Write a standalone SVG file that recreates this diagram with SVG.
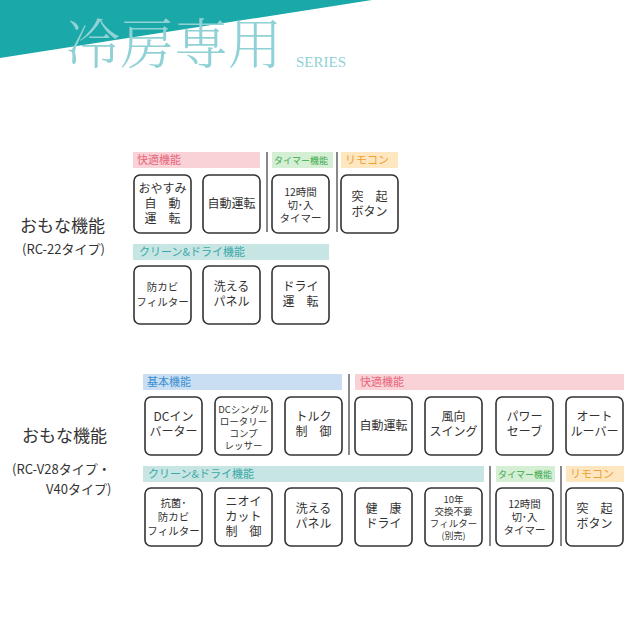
<svg xmlns="http://www.w3.org/2000/svg" width="640" height="640" viewBox="0 0 640 640">
<style>
.b{fill:#fff;stroke:#333;stroke-width:1.6}
.t{font-family:"Noto Sans CJK JP",sans-serif;font-size:12px;fill:#333;text-anchor:middle}
.s{font-size:10.5px}
.x{font-size:9.5px}
.h{font-family:"Noto Sans CJK JP",sans-serif;font-size:11px}
.m{font-size:9px}
.d{stroke:#888;stroke-width:2}
.l{font-family:"Noto Sans CJK JP",sans-serif;fill:#333}
</style>
<rect width="640" height="640" fill="#fff"/>
<polygon points="0,0 372,0 0,58" fill="#1aa9a8"/>
<text x="66" y="64" font-family="Noto Serif CJK JP,Noto Sans CJK JP,serif" font-size="54" font-weight="300" fill="#8fd1d4">冷房専用</text>
<text x="296" y="67" font-family="Liberation Serif,serif" font-size="15" fill="#8fd1d4">SERIES</text>

<g id="labels">
<text class="l" x="20" y="232" font-size="17">おもな機能</text>
<text class="l" x="22" y="254" font-size="13">(RC-22タイプ)</text>
<text class="l" x="22" y="442" font-size="17">おもな機能</text>
<text class="l" x="12" y="474" font-size="13">(RC-V28タイプ・</text>
<text class="l" x="46" y="494" font-size="13">V40タイプ)</text>
</g>

<g id="top-bars">
<rect x="133" y="152" width="127" height="16" fill="#f8d2d7"/><text class="h" x="137" y="164" fill="#e8657a">快適機能</text>
<rect x="272" y="152" width="61" height="16" fill="#d5efd5"/><text class="h m" x="274" y="164" fill="#3aa84a">タイマー機能</text>
<rect x="341" y="152" width="57" height="16" fill="#fde6c0"/><text class="h" x="345" y="164" fill="#f0a030">リモコン</text>
<rect x="133" y="244" width="196" height="16" fill="#c6e5e3"/><text class="h" x="139" y="256" fill="#3aa8a8">クリーン&amp;ドライ機能</text>
<line class="d" x1="267" y1="152" x2="267" y2="232"/><line class="d" x1="337" y1="152" x2="337" y2="232"/>
</g>

<g id="t1"><rect class="b" x="134" y="175" width="57" height="58" rx="6"/><text class="t" x="162.5" y="193">おやすみ</text><text class="t" x="162.5" y="208">自　動</text><text class="t" x="162.5" y="223">運　転</text></g>
<g id="t2"><rect class="b" x="203" y="175" width="57" height="58" rx="6"/><text class="t" x="231.5" y="208">自動運転</text></g>
<g id="t3"><rect class="b" x="272" y="175" width="57" height="58" rx="6"/><text class="t s" x="300.5" y="196">12時間</text><text class="t s" x="300.5" y="209">切･入</text><text class="t s" x="300.5" y="222">タイマー</text></g>
<g id="t4"><rect class="b" x="341" y="175" width="57" height="58" rx="6"/><text class="t" x="369.5" y="201">突　起</text><text class="t" x="369.5" y="216">ボタン</text></g>
<g id="t5"><rect class="b" x="134" y="266" width="57" height="58" rx="6"/><text class="t s" x="162.5" y="291">防カビ</text><text class="t s" x="162.5" y="306">フィルター</text></g>
<g id="t6"><rect class="b" x="203" y="266" width="57" height="58" rx="6"/><text class="t" x="231.5" y="291">洗える</text><text class="t" x="231.5" y="306">パネル</text></g>
<g id="t7"><rect class="b" x="272" y="266" width="57" height="58" rx="6"/><text class="t" x="300.5" y="291">ドライ</text><text class="t" x="300.5" y="306">運　転</text></g>

<g id="bottom-bars">
<rect x="143" y="374" width="199" height="16" fill="#c9def2"/><text class="h" x="147" y="386" fill="#3b8fd0">基本機能</text>
<rect x="355" y="374" width="269" height="16" fill="#f8d2d7"/><text class="h" x="360" y="386" fill="#e8657a">快適機能</text>
<rect x="143" y="466" width="341" height="16" fill="#c6e5e3"/><text class="h" x="148" y="478" fill="#3aa8a8">クリーン&amp;ドライ機能</text>
<rect x="496" y="466" width="59" height="16" fill="#d5efd5"/><text class="h m" x="498" y="478" fill="#3aa84a">タイマー機能</text>
<rect x="566" y="466" width="58" height="16" fill="#fde6c0"/><text class="h" x="570" y="478" fill="#f0a030">リモコン</text>
<line class="d" x1="349" y1="374" x2="349" y2="455"/><line class="d" x1="490" y1="466" x2="490" y2="546"/><line class="d" x1="561" y1="466" x2="561" y2="546"/>
</g>

<g id="b1"><rect class="b" x="145" y="397" width="57" height="58" rx="6"/><text class="t" x="173.5" y="421">DCイン</text><text class="t" x="173.5" y="436">バーター</text></g>
<g id="b2"><rect class="b" x="215" y="397" width="57" height="58" rx="6"/><text class="t x" x="243.5" y="413">DCシングル</text><text class="t x" x="243.5" y="425">ロータリー</text><text class="t x" x="243.5" y="437">コンプ</text><text class="t x" x="243.5" y="449">レッサー</text></g>
<g id="b3"><rect class="b" x="285" y="397" width="57" height="58" rx="6"/><text class="t" x="313.5" y="421">トルク</text><text class="t" x="313.5" y="436">制　御</text></g>
<g id="b4"><rect class="b" x="355" y="397" width="57" height="58" rx="6"/><text class="t" x="383.5" y="430">自動運転</text></g>
<g id="b5"><rect class="b" x="425" y="397" width="57" height="58" rx="6"/><text class="t" x="453.5" y="421">風向</text><text class="t" x="453.5" y="436">スイング</text></g>
<g id="b6"><rect class="b" x="496" y="397" width="57" height="58" rx="6"/><text class="t" x="524.5" y="421">パワー</text><text class="t" x="524.5" y="436">セーブ</text></g>
<g id="b7"><rect class="b" x="566" y="397" width="57" height="58" rx="6"/><text class="t" x="594.5" y="421">オート</text><text class="t" x="594.5" y="436">ルーバー</text></g>

<g id="b8"><rect class="b" x="145" y="488" width="57" height="58" rx="6"/><text class="t s" x="173.5" y="507">抗菌･</text><text class="t s" x="173.5" y="521">防カビ</text><text class="t s" x="173.5" y="535">フィルター</text></g>
<g id="b9"><rect class="b" x="215" y="488" width="57" height="58" rx="6"/><text class="t" x="243.5" y="506">ニオイ</text><text class="t" x="243.5" y="521">カット</text><text class="t" x="243.5" y="536">制　御</text></g>
<g id="b10"><rect class="b" x="285" y="488" width="57" height="58" rx="6"/><text class="t" x="313.5" y="513">洗える</text><text class="t" x="313.5" y="528">パネル</text></g>
<g id="b11"><rect class="b" x="355" y="488" width="57" height="58" rx="6"/><text class="t" x="383.5" y="513">健　康</text><text class="t" x="383.5" y="528">ドライ</text></g>
<g id="b12"><rect class="b" x="425" y="488" width="57" height="58" rx="6"/><text class="t x" x="453.5" y="503">10年</text><text class="t x" x="453.5" y="515">交換不要</text><text class="t x" x="453.5" y="527">フィルター</text><text class="t m" x="453.5" y="539">(別売)</text></g>
<g id="b13"><rect class="b" x="496" y="488" width="57" height="58" rx="6"/><text class="t s" x="524.5" y="508">12時間</text><text class="t s" x="524.5" y="521">切･入</text><text class="t s" x="524.5" y="534">タイマー</text></g>
<g id="b14"><rect class="b" x="566" y="488" width="57" height="58" rx="6"/><text class="t" x="594.5" y="513">突　起</text><text class="t" x="594.5" y="528">ボタン</text></g>
</svg>
